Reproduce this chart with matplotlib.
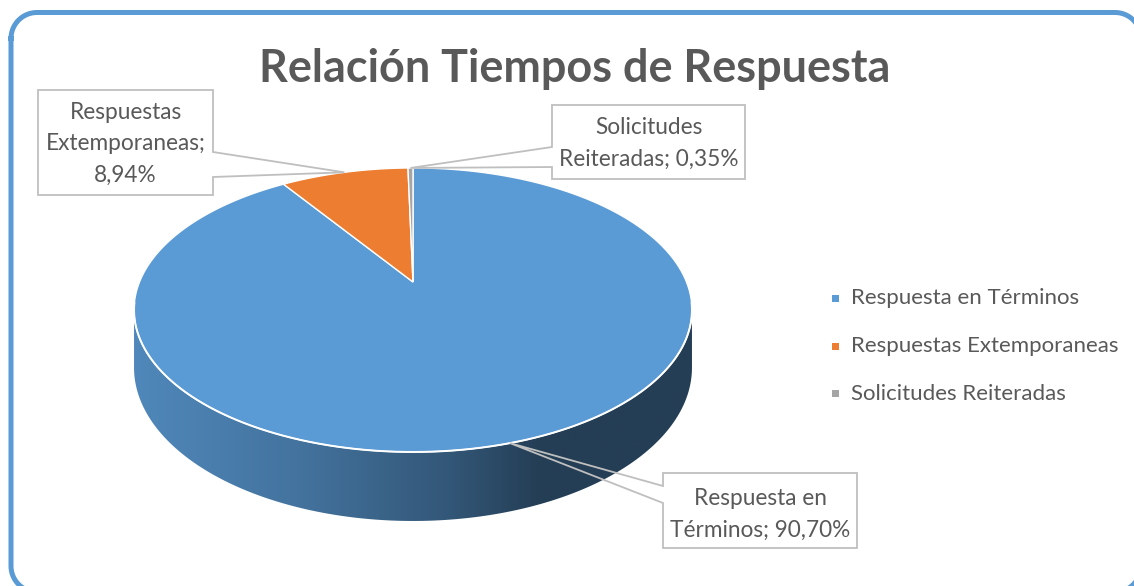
import textwrap
import numpy as np
import matplotlib
matplotlib.use("Agg")
import matplotlib.pyplot as plt
from matplotlib.patches import Polygon, Rectangle
from matplotlib.textpath import TextPath
from matplotlib.font_manager import FontProperties

# ---------------- data ----------------
categories = ["Respuesta en Términos", "Respuestas Extemporaneas", "Solicitudes Reiteradas"]
values = [90.70, 8.94, 0.35]
value_labels = ["90,70%", "8,94%", "0,35%"]
colors = ["#5B9BD5", "#ED7D31", "#A5A5A5"]
title = "Relación Tiempos de Respuesta"

# ---------------- layout ----------------
W, H, DPI = 1134, 586, 100
FAM = "Lato"
TXT = "#595959"
EDGE = "#BFBFBF"

fig = plt.figure(figsize=(W / DPI, H / DPI), dpi=DPI)
ax = fig.add_axes([0, 0, 1, 1])
ax.set_xlim(0, W)
ax.set_ylim(H, 0)
ax.axis("off")
ax.set_autoscale_on(False)


def fit_size(s, target_px, weight="normal"):
    fp = FontProperties(family=FAM, weight=weight)
    w = TextPath((0, 0), s, size=20, prop=fp).get_extents().width * DPI / 72
    return 20 * target_px / w


# perspective projection of the pie (pixel space)
CX, CY = 413, 282
SX, SY, K, DEPTH = 273.5, 136.5, 0.197, 55.4


def proj(theta_deg, r=1.0, drop=0.0):
    th = np.radians(theta_deg)
    u = r * np.cos(th)
    v = r * np.sin(th)
    d = 1 + K * v
    return CX + SX * u / d, CY - SY * v / d + drop * DEPTH / d


total = sum(values)
bounds = [90.0]
for v in values:
    bounds.append(bounds[-1] - 360.0 * v / total)

# front visible arc
a_left = 180 + np.degrees(np.arcsin(K))
a_right = 360 - np.degrees(np.arcsin(K))


def norm_range(a0, a1):
    segs = []
    for off in (-720, -360, 0, 360):
        lo, hi = a1 + off, a0 + off
        s_lo, s_hi = max(lo, a_left), min(hi, a_right)
        if s_hi > s_lo:
            segs.append((s_lo, s_hi))
    return segs


shade_x = [130, 300, 450, 540, 700]
shade_f = [0.88, 0.74, 0.56, 0.40, 0.40]

for i, c in enumerate(colors):
    for lo, hi in norm_range(bounds[i], bounds[i + 1]):
        th = np.linspace(lo, hi, 200)
        xt, yt = proj(th)
        xb, yb = proj(th, drop=1.0)
        poly = Polygon(np.column_stack([np.r_[xt, xb[::-1]], np.r_[yt, yb[::-1]]]),
                       closed=True, facecolor="none", edgecolor="none")
        ax.add_patch(poly)
        base = np.array(matplotlib.colors.to_rgb(c))
        xs = np.linspace(120, 710, 400)
        f = np.interp(xs, shade_x, shade_f)
        img = (base[None, :] * f[:, None])[None, :, :]
        im = ax.imshow(img, extent=(120, 710, 540, 290), aspect="auto",
                       interpolation="bilinear", zorder=1)
        im.set_clip_path(poly)

ax.set_xlim(0, W)
ax.set_ylim(H, 0)

# top faces
for i, c in enumerate(colors):
    th = np.linspace(bounds[i], bounds[i + 1], max(3, int(abs(bounds[i] - bounds[i + 1]) * 2)))
    x, y = proj(th)
    pts = np.column_stack([np.r_[CX, x], np.r_[CY, y]])
    ax.add_patch(Polygon(pts, closed=True, facecolor=c, edgecolor="white",
                         linewidth=1.0, joinstyle="miter", zorder=2))

# white rim between top and side
th = np.linspace(a_left - 3, a_right + 3, 300)
xr, yr = proj(th)
ax.plot(xr, yr, color="white", lw=1.4, zorder=3, solid_capstyle="round")

# ---------------- title ----------------
ts = fit_size(title, 626, "bold")
ax.text(575, 82, title, fontsize=ts, fontweight="bold", family=FAM, color=TXT,
        ha="center", va="baseline", zorder=5)

# ---------------- data callouts ----------------
wrap_widths = [16, 14, 17]
boxes = [
    (663, 473, 857, 548, "left", 486, 503, 505),
    (38, 90, 213, 195, "right", 152, 177, 119),
    (552, 105, 745, 179, "left", 147, 167, 134),
]
PITCH = 31.5
ls = fit_size("Extemporaneas;", 156)

for i in range(len(categories)):
    x0, y0, x1, y1, side, p0, p1, bl = boxes[i]
    mid = (bounds[i] + bounds[i + 1]) / 2
    tx, ty = proj(mid)
    if side == "left":
        pts = [(x0, y0), (x1, y0), (x1, y1), (x0, y1), (x0, p1), (tx, ty), (x0, p0)]
    else:
        pts = [(x0, y0), (x1, y0), (x1, p0), (tx, ty), (x1, p1), (x1, y1), (x0, y1)]
    ax.add_patch(Polygon(pts, closed=True, facecolor="none", edgecolor=EDGE,
                         linewidth=1.3, joinstyle="miter", zorder=6))
    lines = textwrap.wrap(f"{categories[i]}; {value_labels[i]}", wrap_widths[i])
    for j, ln in enumerate(lines):
        ax.text((x0 + x1) / 2, bl + j * PITCH, ln, fontsize=ls, family=FAM, color=TXT,
                ha="center", va="baseline", zorder=7)

# ---------------- legend ----------------
lgs = fit_size("Respuestas Extemporaneas", 264)
leg_y = [298, 346, 393]
for i, cat in enumerate(categories):
    ax.add_patch(Rectangle((831.5, leg_y[i] - 3.5), 7, 7, facecolor=colors[i],
                           edgecolor="none", zorder=5))
    ax.text(851, leg_y[i] + 6.5, cat, fontsize=lgs, family=FAM, color=TXT,
            ha="left", va="baseline", zorder=5)

# ---------------- chart border (rounded rectangle, partly off-canvas) ----------------
bx0, by0, bx1, by1, R = 11, 12.5, 1141, 592, 26


def arc(cx, cy, a0, a1):
    a = np.radians(np.linspace(a0, a1, 30))
    return cx + R * np.cos(a), cy + R * np.sin(a)


segs_x, segs_y = [], []
for (cx, cy, a0, a1) in [(bx0 + R, by0 + R, 180, 270), (bx1 - R, by0 + R, 270, 360),
                         (bx1 - R, by1 - R, 0, 90), (bx0 + R, by1 - R, 90, 180)]:
    xa, ya = arc(cx, cy, a0, a1)
    segs_x.append(xa)
    segs_y.append(ya)
bxs = np.concatenate(segs_x + [segs_x[0][:1]])
bys = np.concatenate(segs_y + [segs_y[0][:1]])
ax.plot(bxs, bys, color="#5B9BD5", lw=3.6, zorder=8, solid_joinstyle="round")

ax.set_xlim(0, W)
ax.set_ylim(H, 0)
fig.savefig("out.png", dpi=DPI)
